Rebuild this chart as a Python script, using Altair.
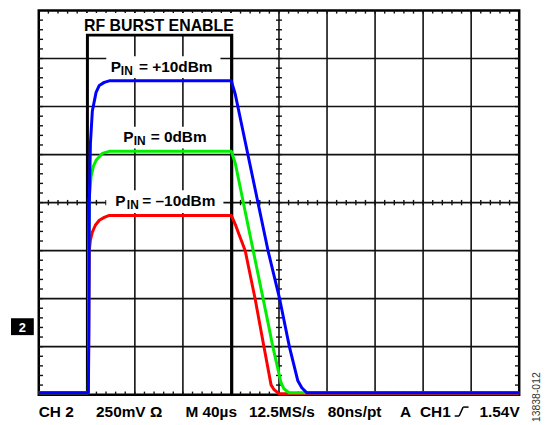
import altair as alt
import pandas as pd

# ---- data ----
# time in µs (M 40µs/div), amplitude in mV (250mV/div, 0 = bottom graticule line)
blue_t = [0, 41.3, 41.7, 42.1, 43.0, 44.6, 47.7, 50.4, 54.5, 58.7, 160.3, 163.6, 190.9, 200.6, 208.8, 215.7, 219.0, 223.1, 400]
blue_v = [10, 10, 333, 1000, 1308, 1477, 1574, 1610, 1626, 1634, 1634, 1564, 749, 497, 246, 72, 36, 10, 10]

green_t = [0, 41.3, 41.7, 42.1, 43.6, 45.5, 47.7, 52.9, 58.7, 160.3, 163.6, 190.9, 195.0, 201.7, 204.1, 208.3, 400]
green_v = [10, 10, 744, 1026, 1138, 1190, 1220, 1256, 1267, 1267, 1205, 374, 246, 62, 31, 10, 10]

red_t = [0, 41.3, 41.7, 42.1, 43.0, 44.6, 47.1, 50.4, 54.5, 58.7, 160.3, 163.6, 166.9, 171.9, 180.2, 187.6, 193.4, 195.9, 200.0, 400]
red_v = [10, 10, 487, 754, 805, 846, 882, 908, 923, 933, 933, 887, 831, 749, 497, 246, 51, 26, 5, 5]

burst_t = [40.5, 40.5, 160.7, 160.7]
burst_v = [0, 1872, 1872, 0]

grid_t = [40, 80, 120, 160, 200, 240, 280, 320, 360]
grid_v = [250, 500, 750, 1000, 1250, 1500, 1750]
minor_t = [t for t in range(8, 400, 8)]
minor_v = [v for v in range(50, 2000, 50)]

bottom_labels = ["CH 2", "250mV \u03a9", "M 40\u00b5s", "12.5MS/s", "80ns/pt", "A", "CH1", "1.54V"]
bottom_x = [0, 57.7, 147.7, 211.7, 291, 364, 384, 444]

FONT = "Liberation Sans, Arial, sans-serif"
W, H = 484, 387

xs = alt.Scale(domain=[0, 400], nice=False, zero=False)
ys = alt.Scale(domain=[0, 2000], nice=False, zero=False)
one = pd.DataFrame({"k": [0]})


def trace(t, v, color):
    df = pd.DataFrame({"t": t, "v": v, "i": range(len(t))})
    return alt.Chart(df).mark_line(color=color, strokeWidth=3, strokeJoin="round").encode(
        x=alt.X("t:Q", scale=xs, axis=None),
        y=alt.Y("v:Q", scale=ys, axis=None),
        order="i:Q",
    )


def rules(df, width=1.6, color="#111111"):
    enc = {}
    enc["x"] = alt.X("t:Q", scale=xs, axis=None)
    enc["y"] = alt.Y("v:Q", scale=ys, axis=None)
    if "t2" in df:
        enc["x2"] = alt.X2("t2:Q")
    if "v2" in df:
        enc["y2"] = alt.Y2("v2:Q")
    return alt.Chart(df).mark_rule(color=color, strokeWidth=width).encode(**enc)


def txt(s, x, y, size=15.5, color="black", align="left", baseline="alphabetic", weight="bold", angle=0):
    return alt.Chart(one).mark_text(
        text=s, fontSize=size, font=FONT, fontWeight=weight, color=color,
        align=align, baseline=baseline, angle=angle,
    ).encode(x=alt.value(x), y=alt.value(y))


def box(x1, x2, y1, y2, color="white"):
    return alt.Chart(one).mark_rect(color=color).encode(
        x=alt.value(x1), x2=alt.value(x2), y=alt.value(y1), y2=alt.value(y2)
    )


def seg(x1, y1, x2, y2, w=1.5):
    return alt.Chart(one).mark_rule(color="black", strokeWidth=w).encode(
        x=alt.value(x1), x2=alt.value(x2), y=alt.value(y1), y2=alt.value(y2)
    )


# graticule
vgrid = rules(pd.DataFrame({"t": grid_t, "v": [0] * len(grid_t), "v2": [2000] * len(grid_t)}))
hgrid = rules(pd.DataFrame({"v": grid_v, "t": [0] * len(grid_v), "t2": [400] * len(grid_v)}))

tk = []
tk.append(pd.DataFrame({"t": minor_t, "v": [2000] * len(minor_t), "v2": [1984] * len(minor_t)}))
tk.append(pd.DataFrame({"t": minor_t, "v": [0] * len(minor_t), "v2": [16] * len(minor_t)}))
tk.append(pd.DataFrame({"t": minor_t, "v": [986] * len(minor_t), "v2": [1014] * len(minor_t)}))
tk.append(pd.DataFrame({"v": minor_v, "t": [0] * len(minor_v), "t2": [3.5] * len(minor_v)}))
tk.append(pd.DataFrame({"v": minor_v, "t": [400] * len(minor_v), "t2": [396.5] * len(minor_v)}))
tk.append(pd.DataFrame({"v": minor_v, "t": [197.5] * len(minor_v), "t2": [202.5] * len(minor_v)}))
ticks = [rules(d, width=1.4) for d in tk]

burst = alt.Chart(pd.DataFrame({"t": burst_t, "v": burst_v, "i": range(4)})).mark_line(
    color="black", strokeWidth=3, strokeJoin="miter"
).encode(x=alt.X("t:Q", scale=xs, axis=None), y=alt.Y("v:Q", scale=ys, axis=None), order="i:Q")

layers = [vgrid, hgrid] + ticks + [
    box(46, 197, 2.5, 24),
    box(68, 183, 46, 68),
    box(81, 176, 117, 139),
    box(68, 186, 181, 204),
    burst,
    trace(red_t, red_v, "#ff0000"),
    trace(green_t, green_v, "#00ee00"),
    trace(blue_t, blue_v, "#0000ff"),
    txt("RF BURST ENABLE", 121, 20.5, size=16, align="center"),
    txt("P", 72.5, 61.6), txt("IN", 82.7, 64.8, size=12), txt("= +10dBm", 101, 61.6),
    txt("P", 85, 132.4), txt("IN", 95.7, 135.6, size=12), txt("= 0dBm", 112.7, 132.4),
    txt("P", 77, 196.8), txt("IN", 88.7, 199.9, size=12), txt("= \u201310dBm", 104.3, 196.8),
]
for s, x in zip(bottom_labels, bottom_x):
    layers.append(txt(s, x, 409.3))
# trigger rising-edge glyph
layers += [seg(419, 408.5, 423.5, 408.5), seg(423.5, 408.5, 427.5, 399.5), seg(427.5, 399.5, 433, 399.5)]
# channel 2 marker
layers += [box(-28, -5, 310, 327, color="black"), txt("2", -16.5, 323.5, size=13, color="white", align="center")]
# figure id
layers.append(txt("13838-012", 502, 389.5, size=10.5, color="#333333", align="center",
                  baseline="middle", weight="normal", angle=270))

chart = alt.layer(*layers).properties(
    width=W, height=H,
    autosize=alt.AutoSizeParams(type="none"),
    padding={"left": 31, "top": 1, "right": 28, "bottom": 29},
).configure_view(stroke="black", strokeWidth=2.5)

chart.save("out.html", embed_options={"renderer": "svg", "actions": False})
